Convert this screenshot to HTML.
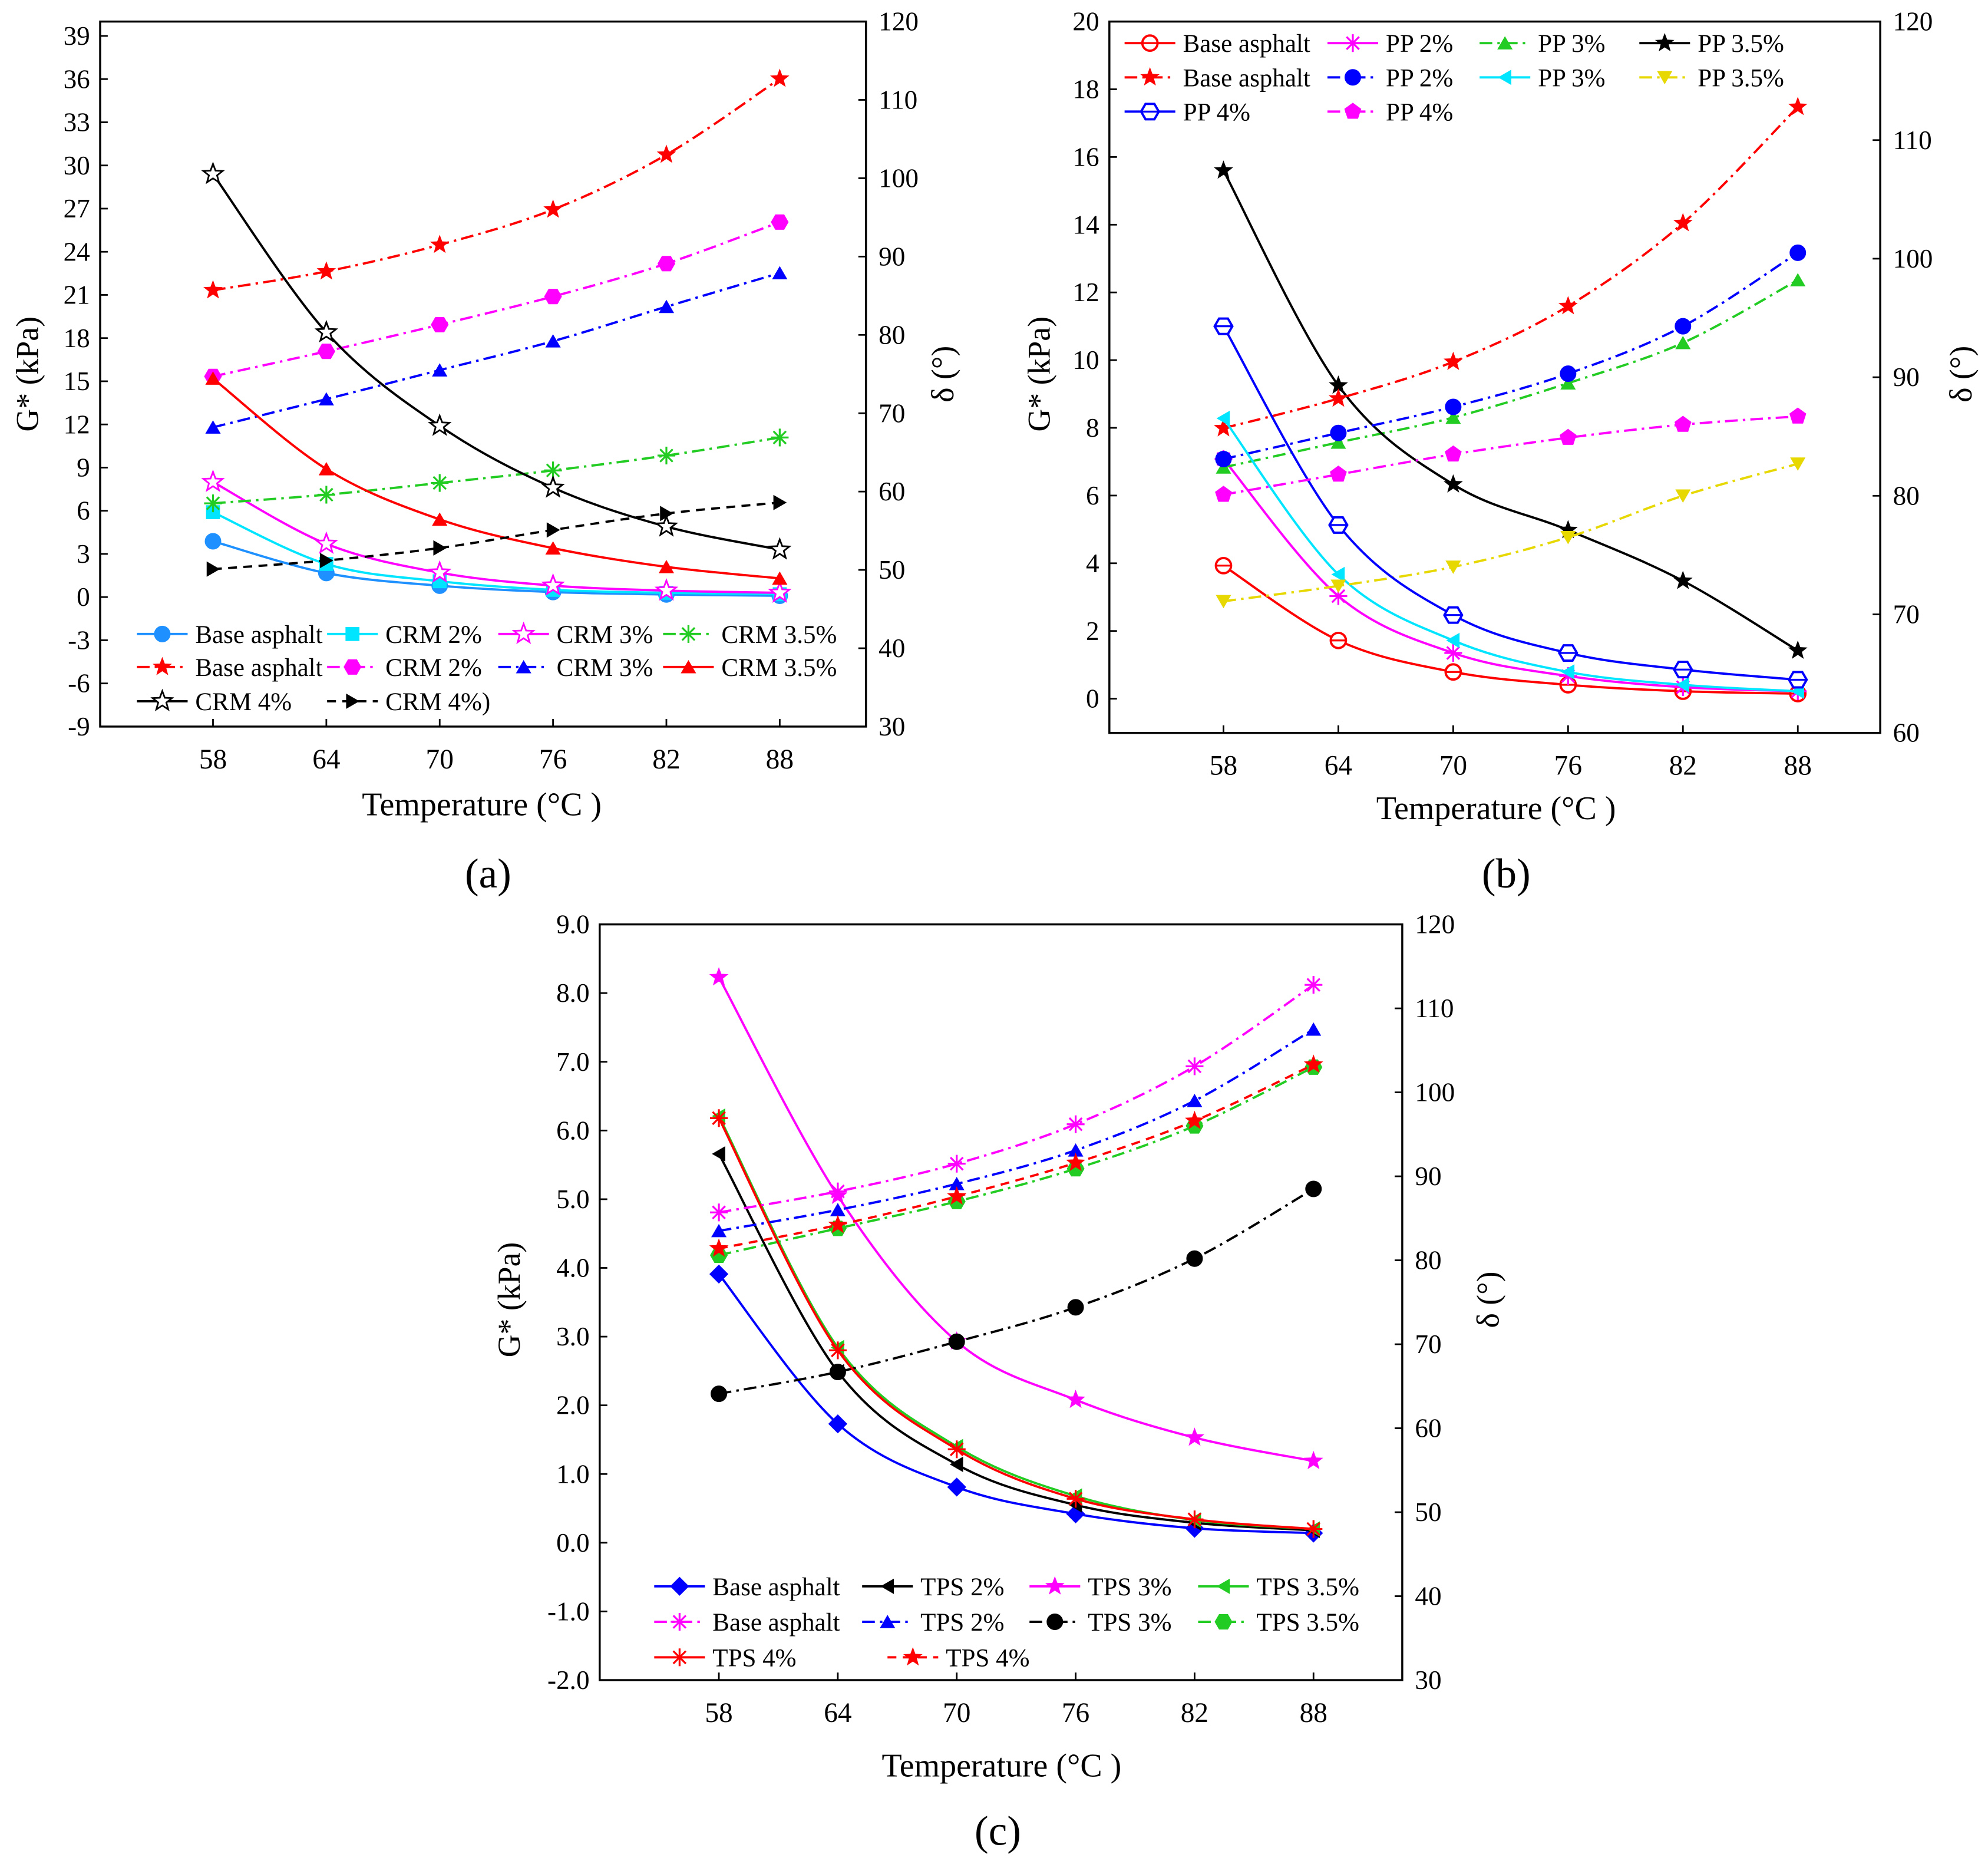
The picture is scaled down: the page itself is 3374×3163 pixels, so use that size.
<!DOCTYPE html>
<html><head><meta charset="utf-8"><style>
html,body{margin:0;padding:0;background:#fff;}
svg{display:block;}
svg text{font-family:"Liberation Serif","DejaVu Serif",serif !important;fill:#000;}
</style></head><body>
<svg id="fig" width="3374" height="3163" viewBox="0 0 1568 1470" preserveAspectRatio="none" xmlns="http://www.w3.org/2000/svg" font-family="Liberation Serif, DejaVu Serif, serif">
<rect width="1568" height="1470" fill="#fff"/>
</svg>
<script>
const temps=[58,64,70,76,82,88];
// Panel a
const aBaseG=[3.88,1.67,0.79,0.35,0.18,0.09];
const aCrm2G=[5.9,2.3,1.1,0.5,0.3,0.2];
const aCrm3G=[8.0,3.7,1.7,0.8,0.45,0.3];
const aCrm35G=[15.2,8.9,5.4,3.4,2.1,1.3];
const aCrm4G=[29.4,18.4,11.9,7.6,4.9,3.3];
const aBaseD=[85.7,88.1,91.5,96.0,103.0,112.7];
const aCrm2D=[74.7,77.9,81.3,84.9,89.1,94.4];
const aCrm3D=[68.2,71.8,75.5,79.2,83.6,87.9];
const aCrm35D=[58.5,59.6,61.1,62.7,64.6,66.9];
const aCrm4D=[50.1,51.2,52.8,55.1,57.2,58.6];
const aLeftTicks=[-9,-6,-3,0,3,6,9,12,15,18,21,24,27,30,33,36,39];
const aRightTicks=[30,40,50,60,70,80,90,100,110,120];
// Panel b
const bBaseG=[3.93,1.72,0.79,0.41,0.22,0.15];
const bPp2G=[7.08,3.03,1.35,0.67,0.34,0.22];
const bPp3G=[8.28,3.67,1.72,0.79,0.41,0.22];
const bPp4G=[11.0,5.13,2.47,1.35,0.86,0.56];
const bPp35G=[15.6,9.25,6.33,4.98,3.48,1.42];
const bBaseD=[85.7,88.2,91.3,96.0,103.0,112.8];
const bPp2D=[83.1,85.3,87.5,90.3,94.3,100.5];
const bPp3D=[82.4,84.5,86.6,89.5,92.9,98.2];
const bPp4D=[80.1,81.8,83.5,84.9,86.0,86.7];
const bPp35D=[71.1,72.4,74.0,76.5,80.0,82.7];
const bLeftTicks=[0,2,4,6,8,10,12,14,16,18,20];
const bRightTicks=[60,70,80,90,100,110,120];
// Panel c
const cBaseG=[3.91,1.73,0.81,0.42,0.21,0.14];
const cTps2G=[5.66,2.49,1.14,0.55,0.29,0.18];
const cTps3G=[8.23,5.05,2.93,2.08,1.53,1.19];
const cTps35G=[6.21,2.84,1.40,0.68,0.33,0.2];
const cTps4G=[6.18,2.80,1.36,0.64,0.34,0.2];
const cBaseD=[85.7,88.2,91.5,96.2,103.1,112.8];
const cTps2D=[83.5,86.0,89.1,93.1,99.0,107.5];
const cTps3D=[64.1,66.7,70.3,74.4,80.2,88.5];
const cTps35D=[80.6,83.8,87.0,90.9,96.0,103.0];
const cTps4D=[81.4,84.2,87.6,91.6,96.6,103.3];
const cLeftTicks=[-2,-1,0,1,2,3,4,5,6,7,8,9];
const cRightTicks=[30,40,50,60,70,80,90,100,110,120];

const NS="http://www.w3.org/2000/svg";
const svg=document.getElementById('fig');
const FF='"Liberation Serif","DejaVu Serif",serif';
function el(tag,attrs,parent,txt){const e=document.createElementNS(NS,tag);for(const k in attrs)e.setAttribute(k,attrs[k]);if(tag==='text'){e.setAttribute('font-family',FF);e.style.fontFamily=FF;}if(txt!==undefined)e.textContent=txt;(parent||svg).appendChild(e);return e;}
const DASH={solid:'',dashdot:'10,4,2,4',dashed:'7,5'};
function smoothPath(pts){
  let d='M'+pts[0][0]+','+pts[0][1];
  for(let i=0;i<pts.length-1;i++){
    const p0=pts[Math.max(0,i-1)],p1=pts[i],p2=pts[i+1],p3=pts[Math.min(pts.length-1,i+2)];
    const c1=[p1[0]+(p2[0]-p0[0])/6,p1[1]+(p2[1]-p0[1])/6];
    const c2=[p2[0]-(p3[0]-p1[0])/6,p2[1]-(p3[1]-p1[1])/6];
    d+=' C'+c1[0]+','+c1[1]+' '+c2[0]+','+c2[1]+' '+p2[0]+','+p2[1];
  }
  return d;
}
function poly(n,r,rot,x,y){const p=[];for(let i=0;i<n;i++){const a=rot+i*2*Math.PI/n;p.push((x+r*Math.cos(a)).toFixed(2)+','+(y+r*Math.sin(a)).toFixed(2));}return p.join(' ');}
function star(x,y,r){const p=[];for(let i=0;i<10;i++){const rr=i%2?r*0.42:r;const a=-Math.PI/2+i*Math.PI/5;p.push((x+rr*Math.cos(a)).toFixed(2)+','+(y+rr*Math.sin(a)).toFixed(2));}return p.join(' ');}
function marker(g,type,x,y,color){
  const r=7;
  switch(type){
    case 'circle':return el('circle',{cx:x,cy:y,r:6,fill:color,stroke:color},g);
    case 'ocircle':{el('circle',{cx:x,cy:y,r:6,fill:'#fff',stroke:color,'stroke-width':1.8},g);return el('line',{x1:x-6,y1:y,x2:x+6,y2:y,stroke:color,'stroke-width':1.5},g);}
    case 'square':return el('rect',{x:x-5.5,y:y-5.5,width:11,height:11,fill:color},g);
    case 'diamond':return el('polygon',{points:poly(4,7.5,0,x,y),fill:color},g);
    case 'tri':return el('polygon',{points:poly(3,r,-Math.PI/2,x,y+1.5),fill:color},g);
    case 'trid':return el('polygon',{points:poly(3,r,Math.PI/2,x,y-1.5),fill:color},g);
    case 'tril':return el('polygon',{points:poly(3,r,Math.PI,x+1.5,y),fill:color},g);
    case 'trir':return el('polygon',{points:poly(3,r,0,x-1.5,y),fill:color},g);
    case 'hex':return el('polygon',{points:poly(6,7,0,x,y),fill:color},g);
    case 'ohex':{el('polygon',{points:poly(6,7,0,x,y),fill:'#fff',stroke:color,'stroke-width':1.8},g);return el('line',{x1:x-6,y1:y,x2:x+6,y2:y,stroke:color,'stroke-width':1.5},g);}
    case 'pent':return el('polygon',{points:poly(5,7,-Math.PI/2,x,y),fill:color},g);
    case 'star':return el('polygon',{points:star(x,y,8),fill:color},g);
    case 'ostar':return el('polygon',{points:star(x,y,8),fill:'#fff',stroke:color,'stroke-width':1.3},g);
    case 'ast':{for(let i=0;i<4;i++){const a=i*Math.PI/4;el('line',{x1:x-7*Math.cos(a),y1:y-7*Math.sin(a),x2:x+7*Math.cos(a),y2:y+7*Math.sin(a),stroke:color,'stroke-width':1.5},g);}return;}
  }
}
function panel(P){
  const g=el('g',{});
  
  
  const X=v=>P.x0+(v-58)/30*(P.x88-P.x0);
  const YL=v=>P.bottom-(v-P.lmin)/(P.lmax-P.lmin)*(P.bottom-P.top);
  const YR=v=>P.bottom-(v-P.rmin)/(P.rmax-P.rmin)*(P.bottom-P.top);
  const fr=el('rect',{x:P.left,y:P.top,width:P.right-P.left,height:P.bottom-P.top,fill:'none',stroke:'#000','stroke-width':1.6},g);
  
  P.lticks.forEach(t=>{const y=YL(t);el('line',{x1:P.left,y1:y,x2:P.left+6,y2:y,stroke:'#000','stroke-width':1.3},g);
    const tx=el('text',{x:P.left-8,y:y+7,'text-anchor':'end','font-size':21},g,P.lfmt?t.toFixed(1):t);
    });
  P.rticks.forEach(t=>{const y=YR(t);el('line',{x1:P.right-6,y1:y,x2:P.right,y2:y,stroke:'#000','stroke-width':1.3},g);
    const tx=el('text',{x:P.right+10,y:y+7,'font-size':21},g,t);
    });
  temps.forEach(t=>{const x=X(t);el('line',{x1:x,y1:P.bottom,x2:x,y2:P.bottom-6,stroke:'#000','stroke-width':1.3},g);
    const tx=el('text',{x:x,y:P.bottom+33,'text-anchor':'middle','font-size':22},g,t);
    });
  const xt=el('text',{x:P.xtx,y:P.xty,'text-anchor':'middle','font-size':26},g,'Temperature (°C )');
  
  const yl=el('text',{x:0,y:0,'text-anchor':'middle','font-size':25,transform:`translate(${P.ylx},${P.yly}) rotate(-90)`},g,'G* (kPa)');
  
  const yr=el('text',{x:0,y:0,'text-anchor':'middle','font-size':25,transform:`translate(${P.yrx},${P.yly}) rotate(-90)`},g,'δ (°)');
  
  const pl=el('text',{x:P.plx,y:P.ply,'text-anchor':'middle','font-size':33},g,P.label);
  
  P.series.forEach(s=>{
    const sg=el('g',{},g);
    
    
    const Y=s.axis==='L'?YL:YR;
    const pts=s.data.map((v,i)=>[X(temps[i]),Y(v)]);
    el('path',{d:smoothPath(pts),fill:'none',stroke:s.color,'stroke-width':1.8,'stroke-dasharray':DASH[s.ls]},sg);
    pts.forEach(p=>marker(sg,s.mk,p[0],p[1],s.color));
    if(s.leg){
      const lg=el('g',{},g);
      
      
      const [lx,ly]=s.leg;
      el('line',{x1:lx,y1:ly,x2:lx+40,y2:ly,stroke:s.color,'stroke-width':1.8,'stroke-dasharray':DASH[s.ls]},lg);
      marker(lg,s.mk,lx+20,ly,s.color);
      el('text',{x:lx+46,y:ly+7,'font-size':20},lg,s.text);
    }
  });
}
const BL='#1e90ff',CY='#00e5ff',MG='#ff00ff',GR='#22cc22',RD='#ff0000',BU='#0000ff',BK='#000',YL='#e6d800';
panel({name:'panel-a',left:79,right:683,top:17,bottom:573,x0:168,x88:615,lmin:-9,lmax:40,rmin:30,rmax:120,
 lticks:aLeftTicks,rticks:aRightTicks,xtx:380,xty:643,ylx:30,yrx:752,yly:295,plx:385,ply:700,label:'(a)',
 series:[
  {id:'crm-base-g',data:aBaseG,axis:'L',color:BL,mk:'circle',ls:'solid',text:'Base asphalt',leg:[108,500]},
  {id:'crm2-g',data:aCrm2G,axis:'L',color:CY,mk:'square',ls:'solid',text:'CRM 2%',leg:[258,500]},
  {id:'crm3-g',data:aCrm3G,axis:'L',color:MG,mk:'ostar',ls:'solid',text:'CRM 3%',leg:[393,500]},
  {id:'crm35-d',data:aCrm35D,axis:'R',color:GR,mk:'ast',ls:'dashdot',text:'CRM 3.5%',leg:[523,500]},
  {id:'crm-base-d',data:aBaseD,axis:'R',color:RD,mk:'star',ls:'dashdot',text:'Base asphalt',leg:[108,526]},
  {id:'crm2-d',data:aCrm2D,axis:'R',color:MG,mk:'hex',ls:'dashdot',text:'CRM 2%',leg:[258,526]},
  {id:'crm3-d',data:aCrm3D,axis:'R',color:BU,mk:'tri',ls:'dashdot',text:'CRM 3%',leg:[393,526]},
  {id:'crm35-g',data:aCrm35G,axis:'L',color:RD,mk:'tri',ls:'solid',text:'CRM 3.5%',leg:[523,526]},
  {id:'crm4-g',data:aCrm4G,axis:'L',color:BK,mk:'ostar',ls:'solid',text:'CRM 4%',leg:[108,553]},
  {id:'crm4-d',data:aCrm4D,axis:'R',color:BK,mk:'trir',ls:'dashed',text:'CRM 4%)',leg:[258,553]}
 ]});
panel({name:'panel-b',left:875,right:1483,top:17,bottom:578,x0:965,x88:1418,lmin:-1.011,lmax:20,rmin:60,rmax:120,
 lticks:bLeftTicks,rticks:bRightTicks,xtx:1180,xty:646,ylx:828,yrx:1555,yly:295,plx:1188,ply:700,label:'(b)',
 series:[
  {id:'pp-base-g',data:bBaseG,axis:'L',color:RD,mk:'ocircle',ls:'solid',text:'Base asphalt',leg:[887,34]},
  {id:'pp2-g',data:bPp2G,axis:'L',color:MG,mk:'ast',ls:'solid',text:'PP 2%',leg:[1047,34]},
  {id:'pp3-d',data:bPp3D,axis:'R',color:GR,mk:'tri',ls:'dashdot',text:'PP 3%',leg:[1167,34]},
  {id:'pp35-g',data:bPp35G,axis:'L',color:BK,mk:'star',ls:'solid',text:'PP 3.5%',leg:[1293,34]},
  {id:'pp-base-d',data:bBaseD,axis:'R',color:RD,mk:'star',ls:'dashdot',text:'Base asphalt',leg:[887,61]},
  {id:'pp2-d',data:bPp2D,axis:'R',color:BU,mk:'circle',ls:'dashdot',text:'PP 2%',leg:[1047,61]},
  {id:'pp3-g',data:bPp3G,axis:'L',color:CY,mk:'tril',ls:'solid',text:'PP 3%',leg:[1167,61]},
  {id:'pp35-d',data:bPp35D,axis:'R',color:YL,mk:'trid',ls:'dashdot',text:'PP 3.5%',leg:[1293,61]},
  {id:'pp4-g',data:bPp4G,axis:'L',color:BU,mk:'ohex',ls:'solid',text:'PP 4%',leg:[887,88]},
  {id:'pp4-d',data:bPp4D,axis:'R',color:MG,mk:'pent',ls:'dashdot',text:'PP 4%',leg:[1047,88]}
 ]});
panel({name:'panel-c',left:473,right:1106,top:729,bottom:1325,x0:567,x88:1036,lmin:-2,lmax:9,rmin:30,rmax:120,lfmt:true,
 lticks:cLeftTicks,rticks:cRightTicks,xtx:790,xty:1401,ylx:410,yrx:1182,yly:1025,plx:787,ply:1455,label:'(c)',
 series:[
  {id:'tps-base-g',data:cBaseG,axis:'L',color:BU,mk:'diamond',ls:'solid',text:'Base asphalt',leg:[516,1251]},
  {id:'tps2-g',data:cTps2G,axis:'L',color:BK,mk:'tril',ls:'solid',text:'TPS 2%',leg:[680,1251]},
  {id:'tps3-g',data:cTps3G,axis:'L',color:MG,mk:'star',ls:'solid',text:'TPS 3%',leg:[812,1251]},
  {id:'tps35-g',data:cTps35G,axis:'L',color:GR,mk:'tril',ls:'solid',text:'TPS 3.5%',leg:[945,1251]},
  {id:'tps-base-d',data:cBaseD,axis:'R',color:MG,mk:'ast',ls:'dashdot',text:'Base asphalt',leg:[516,1279]},
  {id:'tps2-d',data:cTps2D,axis:'R',color:BU,mk:'tri',ls:'dashdot',text:'TPS 2%',leg:[680,1279]},
  {id:'tps3-d',data:cTps3D,axis:'R',color:BK,mk:'circle',ls:'dashdot',text:'TPS 3%',leg:[812,1279]},
  {id:'tps35-d',data:cTps35D,axis:'R',color:GR,mk:'hex',ls:'dashdot',text:'TPS 3.5%',leg:[945,1279]},
  {id:'tps4-g',data:cTps4G,axis:'L',color:RD,mk:'ast',ls:'solid',text:'TPS 4%',leg:[516,1307]},
  {id:'tps4-d',data:cTps4D,axis:'R',color:RD,mk:'star',ls:'dashed',text:'TPS 4%',leg:[700,1307]}
 ]});
</script>
</body></html>
